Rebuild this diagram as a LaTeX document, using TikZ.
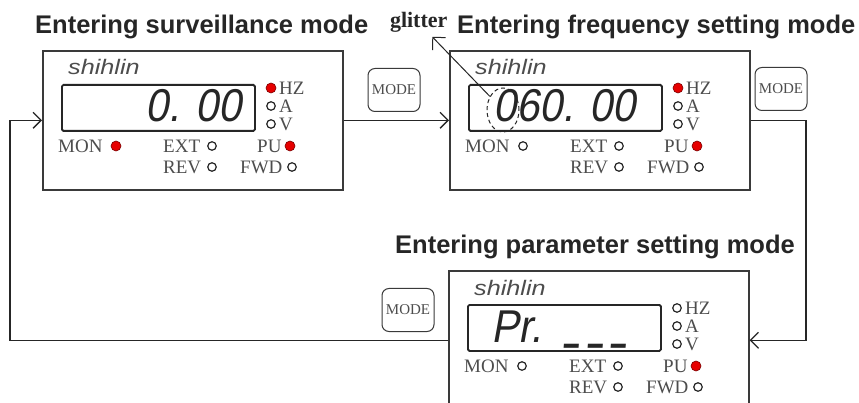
\documentclass[tikz,border=0pt]{standalone}
\usepackage{fontspec}
\usepackage{graphicx}
\setmainfont{Liberation Serif}
\newfontfamily\headfont{Liberation Sans}
\newfontfamily\brandfont[FakeStretch=1.2]{Liberation Sans}
\newfontfamily\segfont[FakeSlant=0.18,FakeStretch=0.9]{Liberation Sans}
\usetikzlibrary{arrows.meta, positioning, shapes.geometric}
\definecolor{ink}{HTML}{262626}
\definecolor{frame}{HTML}{3A3A3A}
\definecolor{txtgray}{HTML}{4D4D4D}
\definecolor{ledred}{HTML}{E60000}
\definecolor{ledrim}{HTML}{7A0000}

% bottom-segment dash of the display
\newcommand{\segdash}{\raisebox{0.15em}{\scalebox{0.62}[1.4]{\_}}}

% one operation panel: name, x, y, HZ led, MON led, digit x, digits
\newcommand{\drawpanel}[7]{%
  \begin{scope}[shift={(#2,#3)}]
    \node[panelbox] (#1) at (0,0) {};
    \node[brand] (#1brand) at (26,25) {shihlin};
    \node[display] (#1disp) at (19,34) {};
    \node[segtext] (#1num) at (#6,72) {#7};
    % unit leds
    \node[#4] (#1hz) at (229,38) {};
    \node[ledtext] (#1hzl) at (237,38) {HZ};
    \node[ledoff] (#1a) at (229,56) {};
    \node[ledtext] (#1al) at (237,56) {A};
    \node[ledoff] (#1v) at (229,74) {};
    \node[ledtext] (#1vl) at (237,74) {V};
    % mode leds
    \node[ledtext] (#1monl) at (16,96) {MON};
    \node[#5] (#1mon) at (74,96) {};
    \node[ledtext] (#1extl) at (121,96) {EXT};
    \node[ledoff] (#1ext) at (170,96) {};
    \node[ledtext] (#1pul) at (215,96) {PU};
    \node[ledon] (#1pu) at (248,96) {};
    \node[ledtext] (#1revl) at (121,117) {REV};
    \node[ledoff] (#1rev) at (170,117) {};
    \node[ledtext] (#1fwdl) at (198,117) {FWD};
    \node[ledoff] (#1fwd) at (250,117) {};
  \end{scope}}

\begin{document}
\begin{tikzpicture}[x=1pt, y=-1pt,
  panelbox/.style={draw=frame, line width=1.6pt, anchor=north west,
    minimum width=300pt, minimum height=139pt, inner sep=0},
  display/.style={draw=ink, line width=1.8pt, rounded corners=1.5pt, anchor=north west,
    minimum width=193pt, minimum height=46pt, inner sep=0},
  segtext/.style={anchor=base west, inner sep=0, text=ink,
    font=\segfont\fontsize{46}{46}\selectfont},
  brand/.style={anchor=base west, inner sep=0, text=txtgray,
    font=\brandfont\itshape\fontsize{21}{21}\selectfont},
  ledtext/.style={anchor=west, inner sep=0, text=txtgray, font=\fontsize{19}{19}\selectfont},
  ledon/.style={circle, draw=ledrim, fill=ledred, line width=0.6pt, minimum size=10pt, inner sep=0},
  ledoff/.style={circle, draw=ink, line width=1.2pt, minimum size=8.5pt, inner sep=0},
  headline/.style={anchor=base west, inner sep=0, text=ink,
    font=\headfont\bfseries\fontsize{25.5}{26}\selectfont},
  modekey/.style={draw=frame, line width=1pt, rounded corners=7pt, minimum width=52pt,
    minimum height=43pt, inner sep=0, text=txtgray, font=\fontsize{15}{15}\selectfont},
  blink/.style={ellipse, draw=ink, dash pattern=on 4pt off 3pt, line width=1pt,
    minimum width=32pt, minimum height=44pt, inner sep=0},
  conn/.style={draw=ink, line width=1.3pt, -{Straight Barb[length=8pt, width=16pt]}},
  ptr/.style={draw=ink, line width=1pt, -{Straight Barb[length=9pt, width=18pt]}}]

% Canvas (pixel units, y downwards)
\useasboundingbox (0,0) rectangle (859,403);
\clip (0,0) rectangle (859,403);
\fill[white] (0,0) rectangle (859,403);

% --- Titles ---
\node[headline] (t1) at (35,34) {Entering surveillance mode};
\node[headline] (t2) at (457,34) {Entering frequency setting mode};
\node[headline] (t3) at (395,254) {Entering parameter setting mode};

% --- Panels ---
\drawpanel{p1}{42}{50}{ledon}{ledon}{103}{0. 00}
\drawpanel{p2}{449}{50}{ledon}{ledoff}{44}{060. 00}
\drawpanel{p3}{448}{270}{ledoff}{ledoff}{43}{Pr.\kern24pt\segdash\kern9pt\segdash\kern9pt\segdash}

% --- MODE keys ---
\node[modekey] (k1) at (394,90) {MODE};
\node[modekey] (k2) at (781,89) {MODE};
\node[modekey] (k3) at (408,310) {MODE};

% --- Loop ---
\coordinate (rloop) at (806,230);
\coordinate (lloop) at (10,230);
\draw[conn] (p1.east) -- (p2.west);
\draw[conn] (p2.east) -| (rloop) |- (p3.east);
\draw[conn] (p3.west) -| (lloop) |- (p1.west);

% --- Glitter note ---
\node[blink] (blink) at (503,110) {};
\node[anchor=base west, inner sep=0, outer sep=4pt, text=ink,
  font=\bfseries\fontsize{22}{22}\selectfont] (glitter) at (386,28) {glitter};
\draw[ptr] (blink) -- (glitter);

\end{tikzpicture}
\end{document}
